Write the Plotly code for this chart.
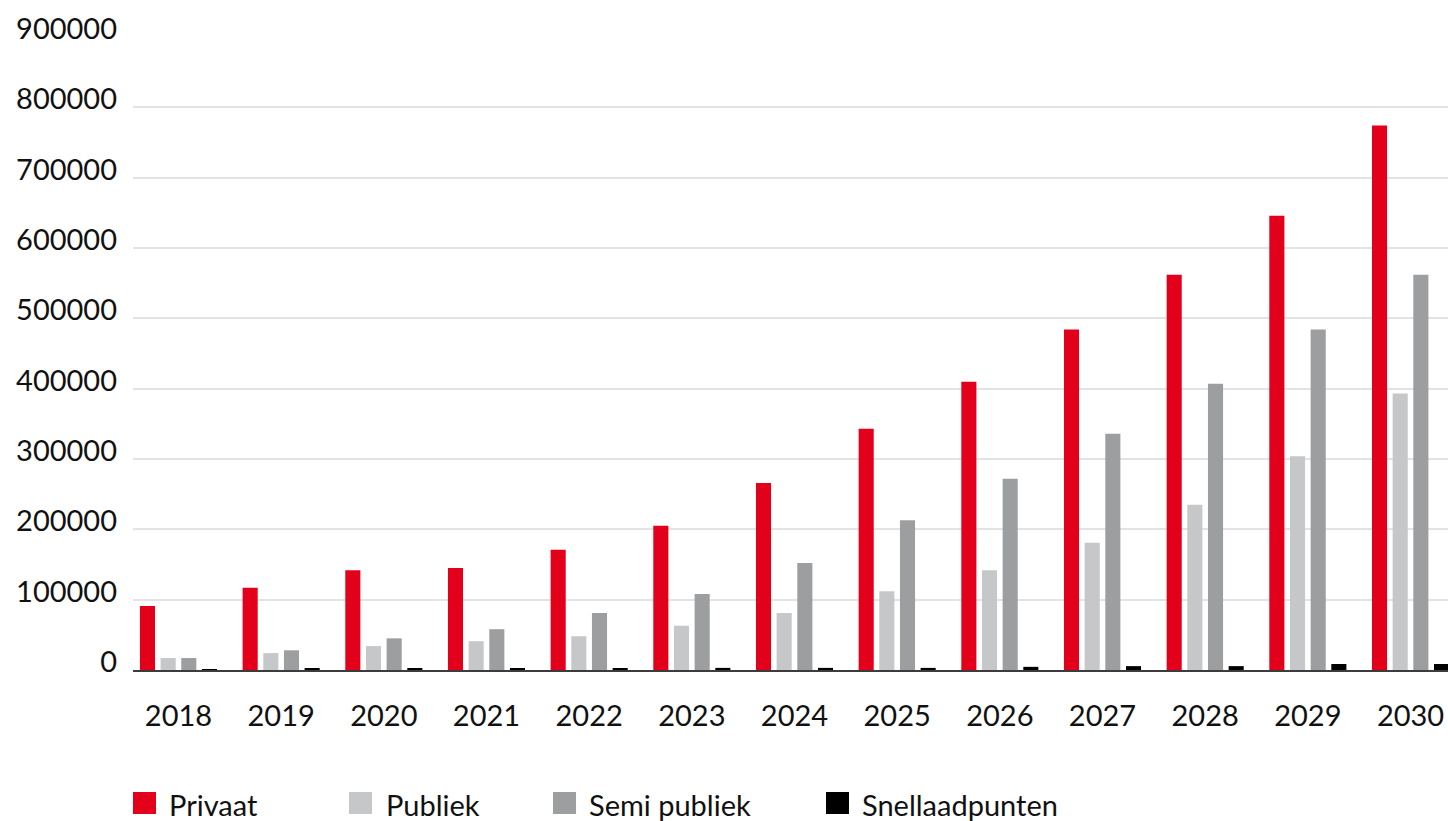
import plotly.graph_objects as go

# Years on the category axis
years = ["2018", "2019", "2020", "2021", "2022", "2023", "2024",
         "2025", "2026", "2027", "2028", "2029", "2030"]

# Number of charging points per type
privaat = [91000, 117000, 142000, 145000, 171000, 205000, 266000,
           343000, 410000, 484000, 562000, 646000, 774000]
publiek = [17000, 24000, 34000, 41000, 48000, 63000, 81000,
           112000, 142000, 181000, 235000, 304000, 393000]
semi_publiek = [17000, 28000, 45000, 58000, 81000, 108000, 152000,
                213000, 272000, 336000, 407000, 484000, 562000]
snellaadpunten = [300, 1500, 1500, 2000, 1500, 3000, 3000,
                  3000, 4500, 5500, 5500, 8500, 8500]

series_names = ["Privaat", "Publiek", "Semi publiek", "Snellaadpunten"]
series_values = [privaat, publiek, semi_publiek, snellaadpunten]
series_colors = ["#E2001A", "#C6C7C8", "#9D9E9F", "#000000"]

y_ticks = [0, 100000, 200000, 300000, 400000, 500000, 600000, 700000, 800000, 900000]

W, H = 1448, 821
M_L, M_R, M_T, M_B = 133, 0, 37, 151
FONT = "Lato"

fig = go.Figure()
for name, vals, col in zip(series_names, series_values, series_colors):
    fig.add_trace(go.Bar(x=years, y=vals, name=name, marker_color=col,
                         marker_line_width=0, showlegend=False))

# Legend drawn as squares + labels under the plot
plot_w = W - M_L - M_R
plot_h = H - M_T - M_B


def px_x(px):
    return (px - M_L) / plot_w


def px_y(py):
    return (H - M_B - py) / plot_h


legend_square_left = [133, 349, 553, 826]
legend_text_left = [167, 384, 587, 860]
shapes = []
annotations = []
for name, col, sx, tx in zip(series_names, series_colors, legend_square_left, legend_text_left):
    shapes.append(dict(type="rect", xref="paper", yref="paper",
                       x0=px_x(sx), x1=px_x(sx + 23), y0=px_y(814), y1=px_y(792),
                       fillcolor=col, line_width=0, layer="above"))
    annotations.append(dict(xref="paper", yref="paper", x=px_x(tx), y=px_y(804),
                            xanchor="left", yanchor="middle", showarrow=False,
                            text=name, font=dict(family=FONT, size=29, color="#111111")))

fig.update_layout(
    width=W, height=H,
    margin=dict(l=M_L, r=M_R, t=M_T, b=M_B, pad=0),
    paper_bgcolor="white", plot_bgcolor="white",
    barmode="group", bargap=0.195, bargroupgap=0.27,
    font=dict(family=FONT, size=29, color="#111111"),
    shapes=shapes, annotations=annotations,
    showlegend=False,
)
fig.update_xaxes(
    type="category", range=[-0.443, 12.365],
    showline=True, linecolor="#3c3c3c", linewidth=2,
    showgrid=False, ticks="", tickfont=dict(family=FONT, size=29, color="#111111"),
    ticklabelstandoff=19,
)
fig.update_yaxes(
    range=[0, 900000], tickvals=y_ticks, ticktext=[str(v) for v in y_ticks],
    showgrid=True, gridcolor="#e3e3e3", gridwidth=1.5,
    zeroline=False, showline=False, ticks="",
    tickfont=dict(family=FONT, size=29, color="#111111"),
    ticklabelstandoff=15, ticklabelshift=-8,
)

fig.write_html("out.html")
